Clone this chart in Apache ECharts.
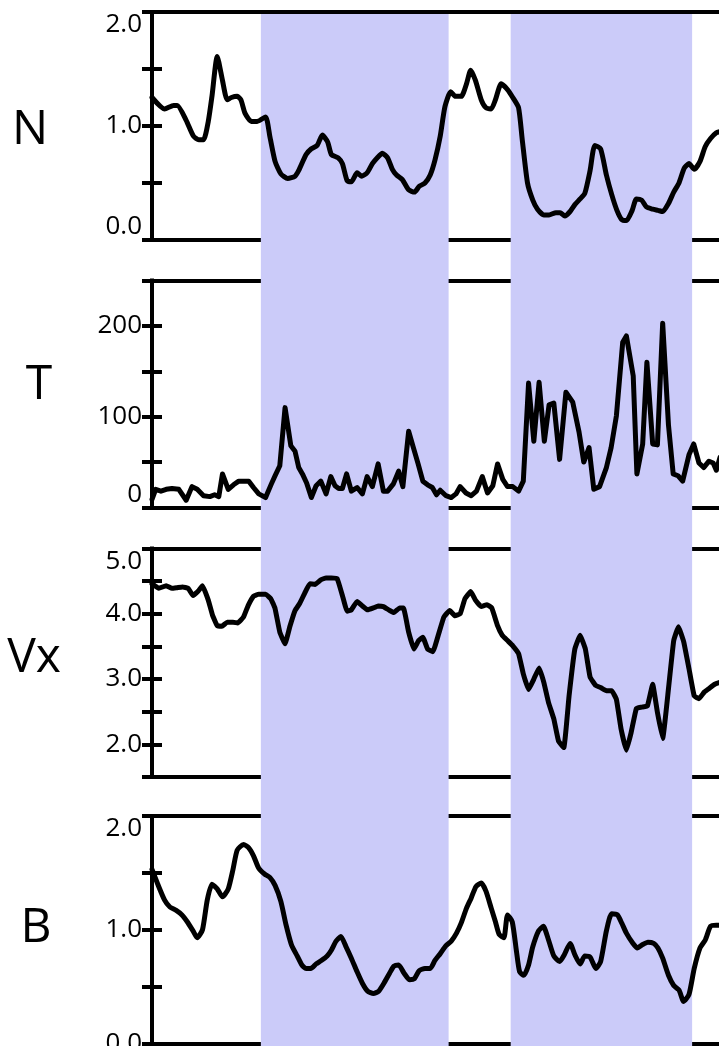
<!DOCTYPE html>
<html>
<head>
<meta charset="utf-8">
<title>Solar wind parameters</title>
<script src="https://cdn.jsdelivr.net/npm/echarts@6/dist/echarts.min.js"></script>
<style>
  html, body { margin: 0; padding: 0; background: #ffffff; }
  #chart { width: 719px; height: 1046px; }
</style>
</head>
<body>
<div id="chart"></div>
<script>
// Time axis (hours from start of interval)
const timeMin = 0;
const timeMax = 108;

// Shaded intervals, in hours
const shadedIntervals = [[20.7, 56.4], [68.2, 102.7]];

// Panel names
const panelNames = ['N', 'T', 'Vx', 'B'];

// Density N: [hour, value]
const nSeries = [[0,1.25],[2.4,1.15],[4.1,1.18],[4.8,1.18],[6.5,1.05],[7.9,0.91],[8.9,0.88],[9.8,0.88],[10.7,1.04],[11.4,1.26],[12.4,1.61],[13.4,1.40],[14.3,1.23],[15.1,1.25],[16.2,1.26],[16.9,1.23],[17.7,1.11],[18.9,1.04],[20.0,1.04],[21.6,1.08],[22.4,0.91],[23.4,0.69],[24.5,0.58],[25.8,0.54],[27.2,0.56],[27.9,0.61],[29.3,0.75],[30.3,0.80],[31.4,0.83],[32.4,0.92],[33.4,0.86],[34.1,0.75],[35.4,0.72],[36.2,0.67],[37.1,0.52],[37.9,0.51],[39.0,0.59],[39.9,0.56],[40.9,0.59],[41.9,0.67],[42.8,0.72],[43.8,0.76],[44.8,0.72],[45.7,0.62],[46.5,0.57],[47.6,0.53],[48.8,0.44],[49.9,0.42],[50.8,0.47],[51.9,0.50],[52.9,0.57],[53.8,0.70],[54.8,0.91],[55.7,1.17],[56.8,1.30],[57.7,1.26],[58.8,1.26],[59.8,1.37],[60.6,1.49],[61.5,1.40],[62.6,1.23],[63.5,1.16],[64.5,1.15],[65.3,1.23],[66.4,1.37],[67.6,1.32],[68.6,1.25],[69.7,1.16],[70.4,0.88],[71.4,0.50],[72.4,0.35],[73.3,0.27],[74.5,0.22],[75.5,0.22],[76.8,0.24],[77.6,0.24],[78.5,0.21],[79.5,0.25],[80.4,0.31],[81.4,0.36],[82.3,0.41],[83.3,0.61],[84.2,0.83],[85.3,0.80],[86.4,0.57],[87.4,0.40],[88.4,0.26],[89.3,0.18],[90.2,0.17],[91.3,0.26],[92.1,0.36],[93.1,0.35],[94.0,0.29],[95.2,0.27],[96.2,0.26],[97.1,0.25],[98.2,0.32],[99.2,0.42],[100.2,0.50],[101.2,0.63],[102.1,0.67],[103.1,0.62],[104.2,0.69],[105.2,0.82],[106.2,0.89],[107.3,0.94],[108,0.95]];

// Temperature T: [hour, value]
const tSeries = [[0,9],[0.7,20],[1.7,18],[2.7,20],[3.8,21],[5.1,20],[6.5,8],[7.6,23],[8.6,20],[9.8,13],[11.0,12],[11.9,14],[12.7,12],[13.4,37],[14.5,20],[15.5,25],[16.5,29],[17.6,29],[18.4,29],[19.3,22],[20.3,15],[21.6,11],[22.7,26],[23.4,35],[24.3,46],[25.3,110],[26.4,68],[27.2,62],[27.9,44],[28.6,37],[29.4,27],[30.3,11],[31.2,24],[32.1,29],[33.1,15],[34.0,34],[34.8,24],[35.5,21],[36.2,21],[37.0,37],[37.9,18],[39.0,22],[40.0,15],[40.9,34],[41.9,23],[43.0,48],[44.0,18],[44.8,18],[45.9,26],[46.9,40],[47.7,23],[48.8,84],[49.7,66],[50.6,48],[51.5,29],[52.4,25],[53.3,22],[54.1,14],[54.8,19],[55.9,13],[56.9,11],[57.8,15],[58.6,23],[59.7,16],[60.7,13],[61.7,18],[62.8,34],[63.8,16],[64.8,24],[65.7,48],[66.7,31],[67.6,23],[68.6,23],[69.7,18],[70.6,29],[71.6,137],[72.6,73],[73.6,138],[74.6,73],[75.5,113],[76.4,115],[77.5,53],[78.7,127],[80.0,116],[81.2,83],[82.1,50],[83.1,66],[84.0,20],[85.1,23],[86.4,44],[87.3,66],[88.3,101],[89.5,182],[90.2,189],[91.5,145],[92.2,37],[93.3,70],[94.1,160],[95.2,70],[96.1,69],[97.1,203],[98.2,91],[99.1,37],[100.0,35],[100.9,29],[102.1,58],[103.0,70],[104.0,49],[104.9,44],[105.9,51],[106.7,49],[107.3,41],[108,55]];

// Velocity Vx: [hour, value]
const vxSeries = [[0,4.46],[1.3,4.39],[2.7,4.43],[3.8,4.39],[4.8,4.40],[5.8,4.41],[6.9,4.39],[7.8,4.28],[8.8,4.35],[9.6,4.43],[10.7,4.21],[11.5,3.98],[12.4,3.82],[13.3,3.81],[14.3,3.87],[15.4,3.87],[16.3,3.86],[17.4,3.95],[18.3,4.13],[19.3,4.27],[20.3,4.30],[21.6,4.30],[22.6,4.23],[23.4,4.08],[24.3,3.72],[25.3,3.54],[26.2,3.80],[27.2,4.05],[28.1,4.16],[29.0,4.31],[30.0,4.46],[31.0,4.45],[32.1,4.52],[33.1,4.55],[34.1,4.55],[35.2,4.54],[36.2,4.28],[37.1,4.04],[37.9,4.06],[39.0,4.19],[40.0,4.12],[41.0,4.06],[42.1,4.09],[43.0,4.12],[44.0,4.11],[45.2,4.05],[46.0,4.02],[47.1,4.09],[47.8,4.09],[48.8,3.72],[49.8,3.46],[50.7,3.59],[51.5,3.64],[52.4,3.46],[53.4,3.42],[54.5,3.69],[55.5,3.95],[56.6,4.05],[57.6,3.97],[58.6,4.00],[59.5,4.23],[60.6,4.34],[61.5,4.21],[62.6,4.11],[63.7,4.14],[64.6,4.09],[65.7,3.82],[66.6,3.67],[67.6,3.59],[68.6,3.51],[69.7,3.39],[70.6,3.08],[71.6,2.84],[72.6,3.00],[73.6,3.17],[74.5,2.95],[75.4,2.64],[76.4,2.39],[77.3,2.05],[78.3,1.95],[79.3,2.74],[80.4,3.46],[81.4,3.67],[82.4,3.46],[83.3,3.03],[84.4,2.90],[85.3,2.87],[86.4,2.82],[87.4,2.82],[88.3,2.69],[89.2,2.23],[90.2,1.91],[91.1,2.18],[92.1,2.55],[93.1,2.57],[94.2,2.59],[95.2,2.92],[96.1,2.49],[97.1,2.09],[98.2,2.85],[99.2,3.59],[100.1,3.80],[101.1,3.57],[102.1,3.16],[103.1,2.74],[104.0,2.70],[105.0,2.80],[106.0,2.86],[107.0,2.92],[108,2.95]];

// Magnetic field B: [hour, value]
const bSeries = [[0,1.53],[1.1,1.40],[2.4,1.26],[3.4,1.20],[4.6,1.17],[5.7,1.13],[6.7,1.07],[7.8,0.99],[8.6,0.93],[9.6,1.00],[10.5,1.26],[11.4,1.40],[12.4,1.36],[13.4,1.29],[14.5,1.36],[15.4,1.53],[16.2,1.70],[17.4,1.75],[18.4,1.72],[19.3,1.65],[20.3,1.54],[21.4,1.49],[22.4,1.46],[23.4,1.39],[24.5,1.25],[25.5,1.04],[26.5,0.87],[27.6,0.77],[28.5,0.69],[29.3,0.66],[30.2,0.66],[31.2,0.70],[32.2,0.73],[33.3,0.77],[34.1,0.82],[35.0,0.90],[35.9,0.94],[36.9,0.85],[37.9,0.75],[39.0,0.63],[40.0,0.53],[41.0,0.46],[42.1,0.44],[43.1,0.46],[44.1,0.53],[45.2,0.62],[46.0,0.68],[46.9,0.69],[47.9,0.62],[49.0,0.56],[49.9,0.57],[50.8,0.64],[51.9,0.66],[52.9,0.66],[53.8,0.73],[54.8,0.79],[55.9,0.86],[56.9,0.90],[57.9,0.97],[58.8,1.06],[59.8,1.19],[60.7,1.28],[61.6,1.38],[62.6,1.41],[63.5,1.34],[64.5,1.19],[65.3,1.07],[66.0,0.96],[66.9,0.93],[67.6,1.13],[68.5,1.07],[69.3,0.81],[69.9,0.63],[70.7,0.60],[71.6,0.69],[72.4,0.85],[73.5,0.99],[74.4,1.03],[75.4,0.91],[76.4,0.77],[77.5,0.72],[78.4,0.78],[79.5,0.88],[80.4,0.78],[81.4,0.70],[82.3,0.77],[83.3,0.76],[84.4,0.66],[85.3,0.72],[86.4,0.99],[87.4,1.14],[88.5,1.13],[89.3,1.06],[90.2,0.97],[91.3,0.89],[92.3,0.84],[93.3,0.87],[94.3,0.89],[95.4,0.88],[96.2,0.84],[97.1,0.75],[98.2,0.60],[99.2,0.51],[100.2,0.47],[101.1,0.37],[102.1,0.43],[103.1,0.66],[104.2,0.84],[105.2,0.91],[106.2,1.03],[107.3,1.04],[108,1.04]];

// Y ranges and tick steps per panel
const yMins = [0, 0, 1.5, 0];
const yMaxs = [2, 250, 5, 2];
const yTickSteps = [0.5, 50, 0.5, 0.5];
const yLabelSteps = [1, 100, 1, 1];
const yLabelDecimals = [1, 0, 1, 1];

const panelData = [nSeries, tSeries, vxSeries, bSeries];

// Panel geometry (pixels)
const plotLeft = 152;
const plotWidth = 568;
const panelTops = [12, 280.5, 548.5, 816];
const panelHeights = [228, 227, 228.5, 227.5];
const minLabelAlign = ['bottom', 'bottom', 'middle', 'middle'];
const maxLabelAlign = ['top', 'top', 'top', 'top'];
const lineSmoothing = [0.2, 0, 0.1, 0.2];

const FONT = '"Open Sans", "Noto Sans", sans-serif';
const INK = '#000000';
const BAND_COLOR = '#cbcbf9';

const grids = [];
const xAxes = [];
const yAxes = [];
const series = [];

panelData.forEach((data, i) => {
  grids.push({
    left: plotLeft, width: plotWidth, top: panelTops[i], height: panelHeights[i],
    containLabel: false, outerBoundsMode: 'none'
  });
  const xBase = {
    gridIndex: i, type: 'value', min: timeMin, max: timeMax,
    axisTick: { show: false }, axisLabel: { show: false }, splitLine: { show: false },
    axisLine: { show: true, onZero: false, lineStyle: { color: INK, width: 4, cap: 'square' } }
  };
  xAxes.push(Object.assign({ position: 'bottom' }, xBase));
  xAxes.push(Object.assign({ position: 'top' }, xBase));

  const step = yTickSteps[i], lab = yLabelSteps[i], dec = yLabelDecimals[i];
  const yBase = {
    gridIndex: i, type: 'value', min: yMins[i], max: yMaxs[i], interval: step,
    splitLine: { show: false },
    axisTick: { show: true, inside: true, length: 10, lineStyle: { color: INK, width: 4 } }
  };
  yAxes.push(Object.assign({}, yBase, {
    position: 'left',
    axisLine: { show: true, onZero: false, lineStyle: { color: INK, width: 4, cap: 'square' } },
    axisLabel: {
      show: true, margin: 10, color: '#000', fontFamily: FONT, fontSize: 26,
      verticalAlignMinLabel: minLabelAlign[i],
      verticalAlignMaxLabel: maxLabelAlign[i],
      formatter: v => (Math.abs(v / lab - Math.round(v / lab)) < 1e-6) ? v.toFixed(dec) : ''
    }
  }));
  yAxes.push(Object.assign({}, yBase, {
    position: 'right',
    axisLine: { show: false },
    axisLabel: { show: false }
  }));

  series.push({
    type: 'line', xAxisIndex: i * 2, yAxisIndex: i * 2, data: data,
    showSymbol: false, symbol: 'none', silent: true, z: 5,
    smooth: lineSmoothing[i],
    lineStyle: { color: INK, width: 5, join: 'round', cap: 'round' }
  });
});

// Background grid spanning all panels, carrying the shaded intervals
const bgIndex = panelData.length;
grids.push({ left: plotLeft, width: plotWidth, top: 14, bottom: 0, outerBoundsMode: 'none' });
xAxes.push({ gridIndex: bgIndex, type: 'value', min: timeMin, max: timeMax, show: false });
yAxes.push({ gridIndex: bgIndex, type: 'value', min: 0, max: 1, show: false });
series.push({
  type: 'line', xAxisIndex: xAxes.length - 1, yAxisIndex: yAxes.length - 1,
  data: [[timeMin, 0], [timeMax, 0]], symbol: 'none', silent: true, z: -1,
  lineStyle: { opacity: 0 },
  markArea: {
    silent: true,
    itemStyle: { color: BAND_COLOR, opacity: 1 },
    data: shadedIntervals.map(([a, b]) => [{ xAxis: a }, { xAxis: b }])
  }
});

// Panel name positions
const nameX = [30, 39, 34, 36];
const nameY = [130, 385, 658, 928];

const chart = echarts.init(document.getElementById('chart'), null, { renderer: 'canvas' });
chart.setOption({
  animation: false,
  backgroundColor: '#ffffff',
  grid: grids,
  xAxis: xAxes,
  yAxis: yAxes,
  series: series,
  graphic: panelNames.map((name, i) => ({
    type: 'text', x: nameX[i], y: nameY[i], silent: true,
    style: {
      text: name, fill: '#000', fontFamily: FONT, fontSize: 48,
      align: 'center', verticalAlign: 'middle', textAlign: 'center', textVerticalAlign: 'middle'
    }
  }))
});
</script>
</body>
</html>
